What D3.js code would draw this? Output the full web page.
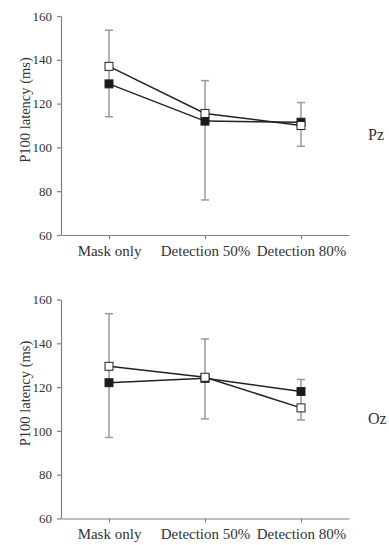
<!DOCTYPE html>
<html lang="en">
<head>
  <meta charset="UTF-8" />
  <title>P100 latency</title>
  <script src="https://cdn.jsdelivr.net/npm/d3@7"></script>
  <style>
    body { margin: 0; background: #fff; }
    svg, .axis text { font-family: "Liberation Serif", "Times New Roman", serif; }
    .axis path, .axis line { stroke: #808080; stroke-width: 1.2; }
    .axis text { fill: #333; }
  </style>
</head>
<body>
  <svg id="chart" width="389" height="545"></svg>
  <script>
    // conditions on the x axis
    const conditions = ["Mask only", "Detection 50%", "Detection 80%"];
    const yTicks = [60, 80, 100, 120, 140, 160];

    // Pz electrode
    const pzOpen = [137, 115.5, 110];
    const pzFilled = [129, 112, 111.5];
    const pzErrHigh = [153.5, 130.5, 120.5];
    const pzErrLow = [114, 76, 100.5];

    // Oz electrode
    const ozOpen = [129.5, 124.5, 110.5];
    const ozFilled = [122, 124, 118];
    const ozErrHigh = [153.5, 142, 123.5];
    const ozErrLow = [97, 105.5, 105];

    const svg = d3.select("#chart");

    function panel(top, name, open, filled, hi, lo) {
      const y = d3.scaleLinear().domain([60, 160]).range([top + 219, top]);
      const x = d3.scalePoint().domain(conditions).range([61, 349]).padding(0.5);
      const g = svg.append("g");

      // y axis
      const ya = g.append("g")
        .attr("class", "axis")
        .attr("transform", "translate(61,0)")
        .call(d3.axisLeft(y).tickValues(yTicks).tickSize(4).tickPadding(5).tickSizeOuter(0));
      ya.selectAll("text").style("font-size", "13px");

      // x axis
      const xa = g.append("g")
        .attr("class", "axis")
        .attr("transform", "translate(0," + y(60) + ")")
        .call(d3.axisBottom(x).tickSize(4).tickPadding(6).tickSizeOuter(0));
      xa.selectAll("text").style("font-size", "15px");

      // y label
      g.append("text")
        .attr("transform", "translate(25," + (top + 94) + ") rotate(-90)")
        .attr("text-anchor", "middle")
        .attr("dominant-baseline", "central")
        .style("font-size", "14.5px")
        .style("fill", "#333")
        .text("P100 latency (ms)");

      // electrode name
      g.append("text")
        .attr("x", 368)
        .attr("y", top + 124)
        .style("font-size", "16px")
        .style("fill", "#333")
        .text(name);

      // error bars
      conditions.forEach(function (c, i) {
        const eg = g.append("g").attr("stroke", "#9a9a9a").attr("stroke-width", 1.5);
        eg.append("line").attr("x1", x(c)).attr("x2", x(c)).attr("y1", y(hi[i])).attr("y2", y(lo[i]));
        eg.append("line").attr("x1", x(c) - 4).attr("x2", x(c) + 4).attr("y1", y(hi[i])).attr("y2", y(hi[i]));
        eg.append("line").attr("x1", x(c) - 4).attr("x2", x(c) + 4).attr("y1", y(lo[i])).attr("y2", y(lo[i]));
      });

      const line = d3.line().x(function (d, i) { return x(conditions[i]); }).y(function (d) { return y(d); });

      [[filled, "#1a1a1a"], [open, "#fff"]].forEach(function (s) {
        g.append("path")
          .datum(s[0])
          .attr("fill", "none")
          .attr("stroke", "#222")
          .attr("stroke-width", 1.5)
          .attr("d", line);
      });
      [[filled, "#1a1a1a"], [open, "#fff"]].forEach(function (s) {
        g.selectAll(null)
          .data(s[0])
          .enter()
          .append("rect")
          .attr("x", function (d, i) { return x(conditions[i]) - 4; })
          .attr("y", function (d) { return y(d) - 4; })
          .attr("width", 8)
          .attr("height", 8)
          .attr("fill", s[1])
          .attr("stroke", "#222")
          .attr("stroke-width", 1);
      });
    }

    panel(16, "Pz", pzOpen, pzFilled, pzErrHigh, pzErrLow);
    panel(299.5, "Oz", ozOpen, ozFilled, ozErrHigh, ozErrLow);
  </script>
</body>
</html>
